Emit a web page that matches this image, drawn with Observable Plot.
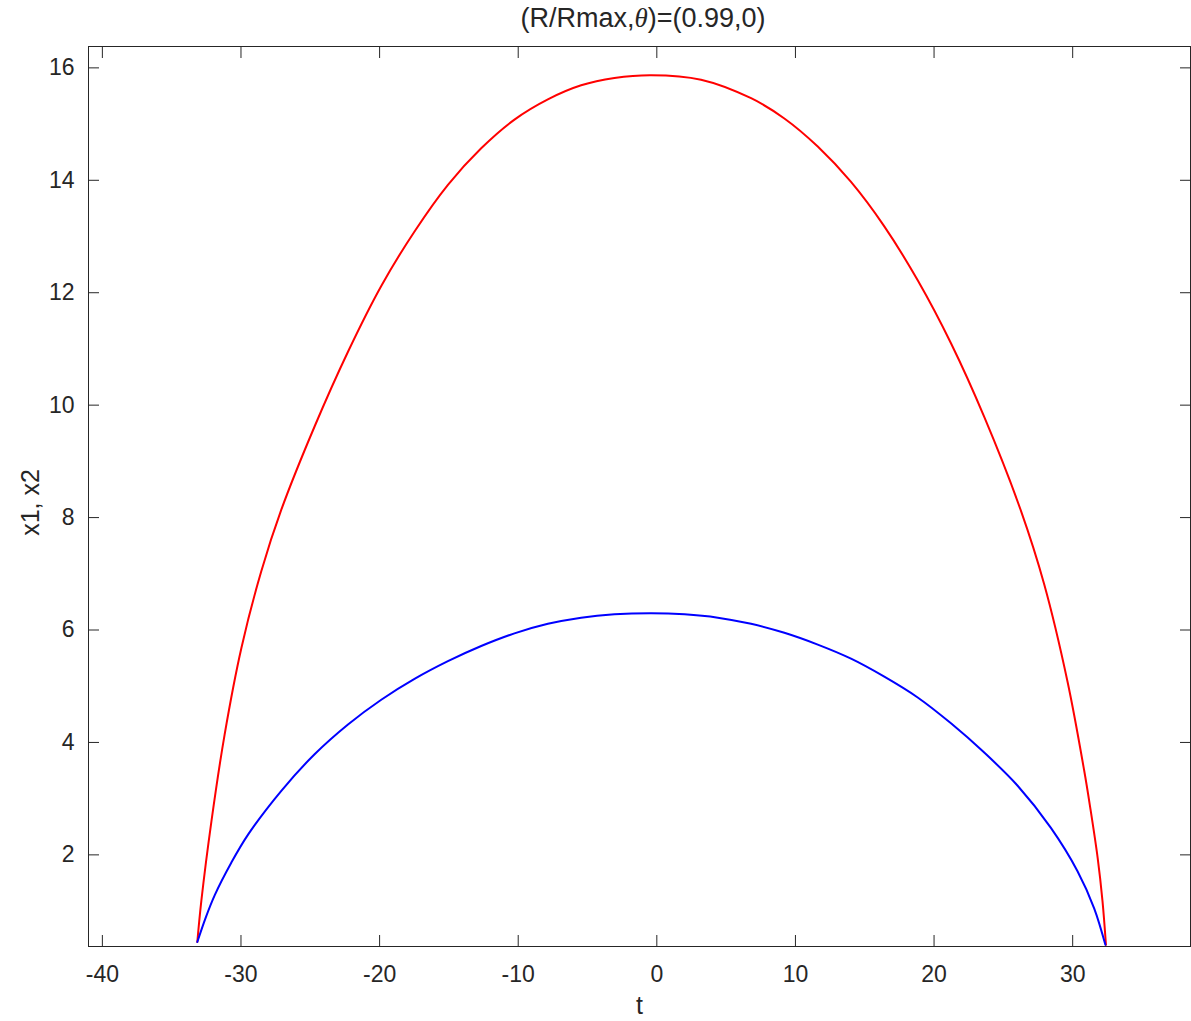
<!DOCTYPE html>
<html>
<head>
<meta charset="utf-8">
<script src="https://cdn.jsdelivr.net/npm/d3@7"></script>
<script src="https://cdn.jsdelivr.net/npm/@observablehq/plot@0.6"></script>
<style>
  html, body { margin: 0; padding: 0; background: #fff; }
  #wrap { width: 1191px; }
  #title {
    height: 36px; line-height: 36px;
    margin-left: 88px; width: 1110px;
    text-align: center;
    font-family: "Liberation Sans", Arial, Helvetica, sans-serif;
    font-size: 27px; color: #262626;
  }
  #title .th { font-family: "Liberation Serif", "Times New Roman", serif; font-style: italic; }
</style>
</head>
<body>
<div id="wrap">
  <div id="title">(R/Rmax,<span class="th">θ</span>)=(0.99,0)</div>
  <div id="chart"></div>
</div>
<script>
// Trajectory x1 (blue) sampled over t
const tX1 = [-33.15, -32.55, -31.90, -30.70, -29.49, -27.09, -24.69, -22.28, -19.88, -17.48, -15.07, -12.67, -10.27, -7.86, -5.46, -3.06, -0.40, 2.00, 4.40, 6.80, 9.20, 11.61, 14.01, 16.41, 18.82, 21.22, 23.62, 26.03, 28.43, 30.35, 31.55, 32.36];
const vX1 = [0.45, 0.88, 1.28, 1.86, 2.36, 3.14, 3.79, 4.32, 4.76, 5.13, 5.445, 5.715, 5.94, 6.11, 6.22, 6.28, 6.30, 6.28, 6.22, 6.11, 5.95, 5.74, 5.49, 5.17, 4.80, 4.34, 3.82, 3.23, 2.48, 1.71, 1.05, 0.40];

// Trajectory x2 (red) sampled over t
const tX2 = [-33.15, -32.86, -32.13, -31.18, -29.97, -28.53, -27.09, -24.69, -22.28, -19.88, -17.48, -15.07, -12.67, -10.27, -7.86, -5.46, -3.06, -0.40, 3.19, 6.80, 9.20, 11.61, 14.01, 16.41, 18.82, 21.22, 23.62, 26.27, 27.95, 29.63, 30.83, 31.26, 31.80, 32.15, 32.40];
const vX2 = [0.45, 1.18, 2.60, 4.14, 5.68, 7.05, 8.14, 9.62, 10.95, 12.12, 13.09, 13.92, 14.57, 15.08, 15.44, 15.69, 15.82, 15.87, 15.79, 15.46, 15.10, 14.60, 13.97, 13.18, 12.22, 11.10, 9.79, 8.12, 6.81, 5.08, 3.50, 2.85, 1.95, 1.18, 0.40];

const xTicks = [-40, -30, -20, -10, 0, 10, 20, 30];
const yTicks = [2, 4, 6, 8, 10, 12, 14, 16];

const x1 = tX1.map((t, i) => ({t, v: vX1[i]}));
const x2 = tX2.map((t, i) => ({t, v: vX2[i]}));

const ink = "#262626";
const plain = (d) => String(d); // hyphen-minus tick labels

const chart = Plot.plot({
  width: 1191,
  height: 985,
  marginLeft: 88,
  marginRight: 1,
  marginTop: 10,
  marginBottom: 75,
  style: {fontFamily: "'Liberation Sans', Arial, Helvetica, sans-serif", fontSize: "23px", color: ink, background: "#fff"},
  x: {domain: [-41, 38.5], ticks: xTicks},
  y: {domain: [0.37, 16.38], ticks: yTicks},
  marks: [
    Plot.line(x2, {x: "t", y: "v", stroke: "#ff0000", strokeWidth: 2, curve: "catmull-rom"}),
    Plot.line(x1, {x: "t", y: "v", stroke: "#0000ff", strokeWidth: 2, curve: "catmull-rom"}),
    Plot.frame({stroke: ink, strokeWidth: 1}),
    Plot.axisX({anchor: "bottom", ticks: xTicks, tickSize: -11, tickPadding: 30, tickFormat: plain, label: null, stroke: ink, fill: ink}),
    Plot.axisX({anchor: "top", ticks: xTicks, tickSize: -11, tickFormat: () => "", label: null, stroke: ink}),
    Plot.axisY({anchor: "left", ticks: yTicks, tickSize: -11, tickPadding: 25, tickFormat: plain, label: null, stroke: ink, fill: ink}),
    Plot.axisY({anchor: "right", ticks: yTicks, tickSize: -11, tickFormat: () => "", label: null, stroke: ink}),
    Plot.text(["t"], {frameAnchor: "bottom", dy: 67, fontSize: 25, fill: ink}),
    Plot.text(["x1, x2"], {frameAnchor: "left", textAnchor: "middle", dx: -58, dy: 6, rotate: -90, fontSize: 25, fill: ink})
  ]
});
document.getElementById("chart").appendChild(chart);
</script>
</body>
</html>
